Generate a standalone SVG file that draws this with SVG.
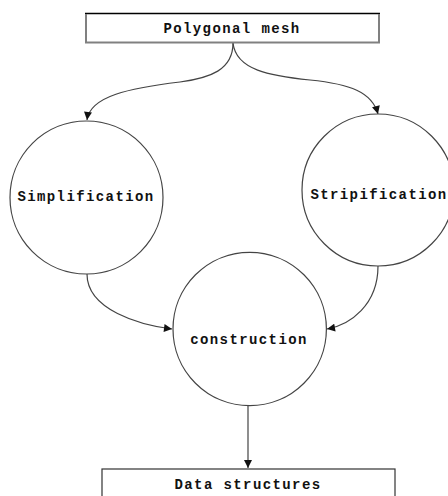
<svg xmlns="http://www.w3.org/2000/svg" width="448" height="496" viewBox="0 0 448 496">
<defs>
<style>
.lbl{font-family:"Liberation Mono","Courier New",monospace;font-weight:bold;font-size:14px;letter-spacing:1.4px;fill:#111;text-anchor:middle}
.node{fill:#fff;stroke:#444;stroke-width:1.2}
.edge{fill:none;stroke:#444;stroke-width:1.2}
</style>
<marker id="ah" viewBox="0 0 10 10" refX="10" refY="5" markerWidth="9" markerHeight="8" markerUnits="userSpaceOnUse" orient="auto">
<path d="M0,0 L10,5 L0,10 Z" fill="#111"/>
</marker>
</defs>
<rect width="448" height="496" fill="#fff"/>
<g id="connectors">
<path class="edge" d="M233,43 C233,70 210,78 180,82 C130,88 90,96 87,120" marker-end="url(#ah)"/>
<path class="edge" d="M233,43 C236,70 270,76 310,80 C350,84 372,92 378,114" marker-end="url(#ah)"/>
<path class="edge" d="M87,274 C87,310 140,325 172,329" marker-end="url(#ah)"/>
<path class="edge" d="M378,266 C378,305 350,325 327,329" marker-end="url(#ah)"/>
<path class="edge" d="M248,406 L248,468" marker-end="url(#ah)"/>
</g>
<g id="polygonal-mesh">
<rect x="86" y="13.5" width="293" height="29" fill="#fff" stroke="#808080" stroke-width="2"/>
<line x1="85" y1="13.5" x2="380" y2="13.5" stroke="#000" stroke-width="1.2"/>
<text class="lbl" x="232" y="33">Polygonal mesh</text>
</g>
<g id="simplification">
<circle class="node" cx="86.5" cy="197.5" r="76.5"/>
<text class="lbl" x="86" y="201">Simplification</text>
</g>
<g id="stripification">
<circle class="node" cx="378" cy="190" r="76"/>
<text class="lbl" x="379" y="199">Stripification</text>
</g>
<g id="construction">
<circle class="node" cx="249.7" cy="329" r="76.7"/>
<text class="lbl" x="249" y="344">construction</text>
</g>
<g id="data-structures">
<rect x="102" y="469" width="293" height="40" fill="#fff" stroke="#333" stroke-width="1.2"/>
<text class="lbl" x="248" y="489">Data structures</text>
</g>
</svg>
